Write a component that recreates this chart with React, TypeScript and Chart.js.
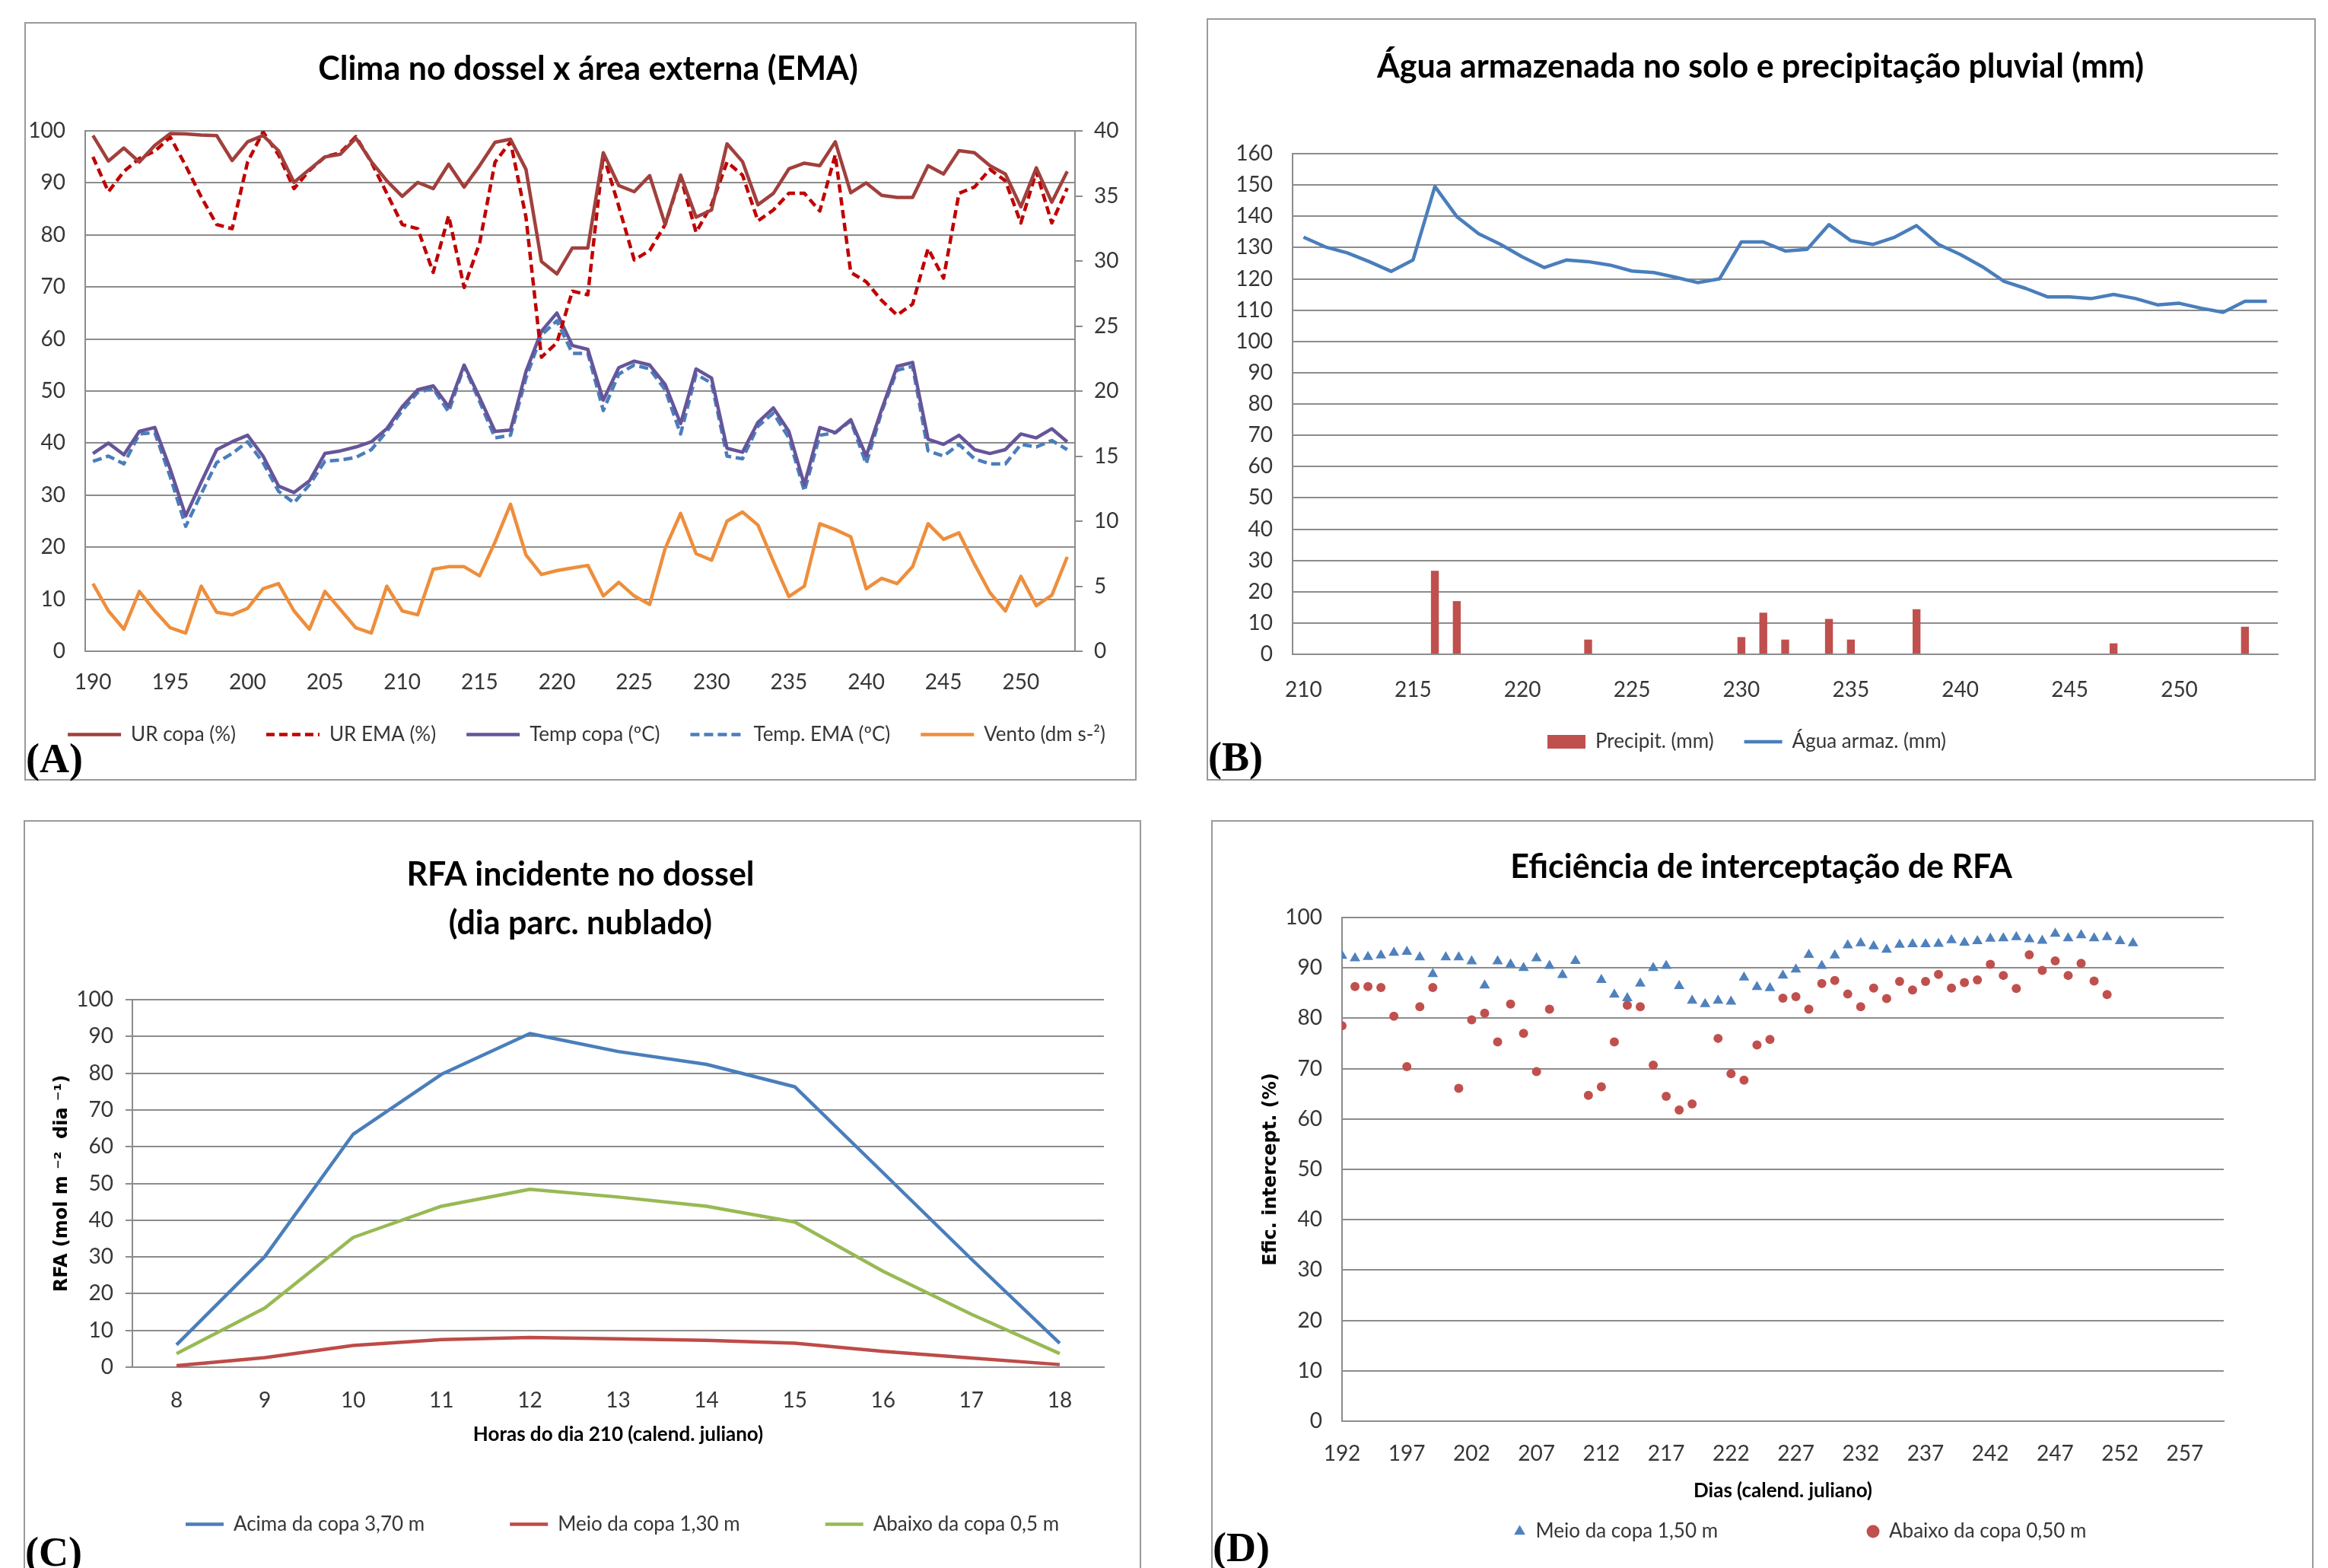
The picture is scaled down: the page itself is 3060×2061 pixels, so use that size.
import React, { useEffect, useRef } from 'react';
import { Chart, registerables } from 'chart.js';

Chart.register(...registerables);

// ---------------- Panel A : Clima no dossel x área externa ----------------
const daysA = [190, 191, 192, 193, 194, 195, 196, 197, 198, 199, 200, 201, 202, 203, 204, 205, 206, 207, 208, 209, 210, 211, 212, 213, 214, 215, 216, 217, 218, 219, 220, 221, 222, 223, 224, 225, 226, 227, 228, 229, 230, 231, 232, 233, 234, 235, 236, 237, 238, 239, 240, 241, 242, 243, 244, 245, 246, 247, 248, 249, 250, 251, 252, 253];
const xTicksA = [190, 195, 200, 205, 210, 215, 220, 225, 230, 235, 240, 245, 250];
const yTicksA = [0, 10, 20, 30, 40, 50, 60, 70, 80, 90, 100];
const y1TicksA = [0, 5, 10, 15, 20, 25, 30, 35, 40];
const urCopaA = [99.1, 94.2, 96.7, 94.0, 97.2, 99.5, 99.4, 99.2, 99.1, 94.3, 97.9, 99.1, 96.2, 90.1, 92.6, 95.0, 95.5, 98.6, 94.1, 90.4, 87.4, 90.1, 88.9, 93.6, 89.2, 93.3, 97.8, 98.4, 92.6, 74.9, 72.5, 77.5, 77.5, 95.8, 89.5, 88.3, 91.4, 82.0, 91.5, 83.4, 84.8, 97.5, 94.1, 85.8, 88.0, 92.7, 93.8, 93.3, 97.9, 88.1, 90.0, 87.6, 87.2, 87.2, 93.3, 91.7, 96.2, 95.8, 93.3, 91.7, 85.4, 92.9, 86.3, 92.2];
const urEmaA = [95.0, 88.3, 92.2, 94.7, 96.1, 98.8, 93.3, 87.3, 82.0, 81.2, 94.0, 99.8, 95.4, 88.9, 92.4, 95.0, 95.8, 98.9, 94.0, 88.0, 82.0, 81.2, 72.8, 83.7, 69.9, 78.4, 94.0, 97.9, 83.4, 56.5, 59.3, 69.2, 68.5, 95.4, 85.5, 75.2, 77.0, 82.0, 91.2, 80.5, 85.8, 94.0, 91.5, 82.7, 84.8, 88.0, 88.0, 84.6, 95.4, 72.8, 71.0, 67.4, 64.6, 66.7, 77.4, 71.7, 88.0, 89.2, 92.6, 90.4, 82.3, 92.2, 82.3, 89.0];
const tempCopaA = [15.2, 16.0, 15.1, 16.9, 17.2, 14.0, 10.4, 13.0, 15.5, 16.1, 16.6, 15.0, 12.7, 12.2, 13.1, 15.2, 15.4, 15.7, 16.1, 17.1, 18.8, 20.1, 20.4, 18.8, 22.0, 19.5, 16.9, 17.0, 21.5, 24.6, 26.0, 23.5, 23.2, 19.3, 21.8, 22.3, 22.0, 20.5, 17.5, 21.7, 21.0, 15.6, 15.3, 17.6, 18.7, 16.9, 12.8, 17.2, 16.8, 17.8, 15.0, 18.6, 21.9, 22.2, 16.3, 15.9, 16.6, 15.5, 15.2, 15.5, 16.7, 16.4, 17.1, 16.1];
const tempEmaA = [14.6, 15.0, 14.4, 16.7, 16.8, 13.4, 9.6, 12.1, 14.5, 15.2, 16.1, 14.5, 12.3, 11.4, 12.8, 14.6, 14.7, 14.9, 15.5, 16.9, 18.5, 19.9, 20.2, 18.4, 21.9, 19.2, 16.4, 16.6, 21.0, 24.3, 25.4, 22.9, 22.9, 18.5, 21.3, 22.0, 21.7, 20.1, 16.7, 21.3, 20.6, 15.0, 14.8, 17.3, 18.3, 16.4, 12.3, 16.6, 16.8, 17.7, 14.4, 18.4, 21.6, 21.9, 15.4, 15.0, 15.9, 14.8, 14.4, 14.4, 15.9, 15.7, 16.2, 15.5];
const ventoA = [5.2, 3.1, 1.7, 4.6, 3.1, 1.8, 1.4, 5.0, 3.0, 2.8, 3.3, 4.8, 5.2, 3.1, 1.7, 4.6, 3.2, 1.8, 1.4, 5.0, 3.1, 2.8, 6.3, 6.5, 6.5, 5.8, 8.4, 11.3, 7.4, 5.9, 6.2, 6.4, 6.6, 4.25, 5.3, 4.25, 3.6, 7.9, 10.6, 7.5, 7.0, 10.0, 10.7, 9.7, 6.9, 4.2, 5.0, 9.8, 9.35, 8.8, 4.8, 5.6, 5.2, 6.5, 9.8, 8.6, 9.1, 6.7, 4.5, 3.1, 5.75, 3.5, 4.3, 7.25];

// ---------------- Panel B : Água armazenada e precipitação ----------------
const daysB = [210, 211, 212, 213, 214, 215, 216, 217, 218, 219, 220, 221, 222, 223, 224, 225, 226, 227, 228, 229, 230, 231, 232, 233, 234, 235, 236, 237, 238, 239, 240, 241, 242, 243, 244, 245, 246, 247, 248, 249, 250, 251, 252, 253, 254];
const xTicksB = [210, 215, 220, 225, 230, 235, 240, 245, 250];
const yTicksB = [0, 10, 20, 30, 40, 50, 60, 70, 80, 90, 100, 110, 120, 130, 140, 150, 160];
const precipB = [null, null, null, null, null, null, 26.7, 17.0, null, null, null, null, null, 4.7, null, null, null, null, null, null, 5.5, 13.3, 4.7, null, 11.3, 4.7, null, null, 14.4, null, null, null, null, null, null, null, null, 3.5, null, null, null, null, null, 8.8, null];
const aguaB = [133.3, 130.2, 128.3, 125.5, 122.4, 126.0, 149.5, 139.9, 134.4, 131.0, 127.0, 123.6, 126.0, 125.5, 124.4, 122.5, 122.0, 120.5, 118.8, 120.0, 131.8, 131.8, 128.9, 129.4, 137.3, 132.2, 131.0, 133.3, 137.0, 131.0, 127.8, 123.9, 119.2, 116.9, 114.2, 114.2, 113.7, 115.0, 113.7, 111.7, 112.2, 110.6, 109.3, 112.8, 112.8];

// ---------------- Panel C : RFA incidente no dossel ----------------
const hoursC = [8, 9, 10, 11, 12, 13, 14, 15, 16, 17, 18];
const yTicksC = [0, 10, 20, 30, 40, 50, 60, 70, 80, 90, 100];
const acimaC = [6.1, 30.1, 63.4, 79.7, 90.8, 85.9, 82.4, 76.3, 52.9, 29.4, 6.5];
const meioC = [0.4, 2.6, 5.9, 7.5, 8.1, 7.7, 7.3, 6.5, 4.3, 2.5, 0.7];
const abaixoC = [3.7, 16.1, 35.3, 43.8, 48.4, 46.3, 43.8, 39.5, 26.1, 14.4, 3.7];

// ---------------- Panel D : Eficiência de interceptação ----------------
const xTicksD = [192, 197, 202, 207, 212, 217, 222, 227, 232, 237, 242, 247, 252, 257];
const yTicksD = [0, 10, 20, 30, 40, 50, 60, 70, 80, 90, 100];
const meioDaysD = [192, 193, 194, 195, 196, 197, 198, 199, 200, 201, 202, 203, 204, 205, 206, 207, 208, 209, 210, 212, 213, 214, 215, 216, 217, 218, 219, 220, 221, 222, 223, 224, 225, 226, 227, 228, 229, 230, 231, 232, 233, 234, 235, 236, 237, 238, 239, 240, 241, 242, 243, 244, 245, 246, 247, 248, 249, 250, 251, 252, 253];
const meioValsD = [92.4, 91.9, 92.2, 92.5, 93.0, 93.2, 92.1, 88.8, 92.1, 92.1, 91.3, 86.5, 91.3, 90.7, 90.0, 91.9, 90.4, 88.6, 91.4, 87.6, 84.7, 84.0, 86.9, 90.0, 90.4, 86.4, 83.5, 82.8, 83.5, 83.3, 88.1, 86.2, 86.0, 88.5, 89.7, 92.6, 90.4, 92.5, 94.5, 94.9, 94.3, 93.6, 94.6, 94.7, 94.7, 94.8, 95.5, 95.0, 95.3, 95.8, 95.9, 96.1, 95.7, 95.4, 96.8, 95.9, 96.5, 95.9, 96.1, 95.3, 94.9];
const abaixoDaysD = [192, 193, 194, 195, 196, 197, 198, 199, 201, 202, 203, 204, 205, 206, 207, 208, 211, 212, 213, 214, 215, 216, 217, 218, 219, 221, 222, 223, 224, 225, 226, 227, 228, 229, 230, 231, 232, 233, 234, 235, 236, 237, 238, 239, 240, 241, 242, 243, 244, 245, 246, 247, 248, 249, 250, 251];
const abaixoValsD = [78.5, 86.3, 86.3, 86.1, 80.4, 70.4, 82.3, 86.1, 66.1, 79.7, 81.0, 75.3, 82.8, 77.0, 69.4, 81.8, 64.7, 66.4, 75.3, 82.6, 82.3, 70.7, 64.5, 61.8, 63.0, 76.0, 69.0, 67.7, 74.7, 75.8, 84.0, 84.3, 81.8, 86.9, 87.5, 84.8, 82.3, 86.0, 83.9, 87.3, 85.6, 87.3, 88.7, 86.0, 87.1, 87.6, 90.7, 88.5, 85.9, 92.6, 89.5, 91.4, 88.5, 90.9, 87.4, 84.7];

// ---------------- styling ----------------
const GRID = '#8c8c8c';
const TXT = '#363636';
const FONT = "Lato, 'Open Sans', 'DejaVu Sans', sans-serif";
const LW = 4.5;
const tickFont = { family: FONT, size: 28 };
const LEG_FS = 26;
const legendFont = { family: FONT, size: LEG_FS };
const titleFont = { family: FONT, size: 43, weight: 'bold' as const };
const axisTitleFont = { family: FONT, size: 26, weight: 'bold' as const };
const yTitleFont = { family: "'DejaVu Sans', Verdana, sans-serif", size: 24, weight: 'bold' as const };

const fixedTicks = (vals: number[]) => (scale: any) => {
  scale.ticks = vals.map((v) => ({ value: v }));
};

// places the library-drawn legend row and title at given centres
const blockPos = {
  id: 'blockPos',
  afterLayout(chart: any, _args: any, opts: any) {
    if (!opts) return;
    const lg = chart.legend;
    if (lg && opts.cy != null) {
      lg.top = opts.cy - opts.pad - opts.fs / 2;
      lg.bottom = lg.top + opts.pad + opts.fs + 14;
      const w = lg.right - lg.left;
      lg.left = opts.cx - w / 2;
      lg.right = lg.left + w;
    }
    const tb = chart.titleBlock;
    if (tb && opts.tcx != null) {
      const w = tb.right - tb.left;
      tb.left = opts.tcx - w / 2;
      tb.right = tb.left + w;
    }
  },
};

const lineLegendLabels = (chart: any) =>
  chart.data.datasets.map((ds: any, i: number) => ({
    text: ds.label,
    fillStyle: ds.backgroundColor || ds.borderColor,
    strokeStyle: ds.borderColor || ds.backgroundColor,
    lineWidth: ds.type === 'bar' ? 0 : ds.borderWidth,
    lineDash: ds.borderDash || [],
    lineCap: 'butt',
    pointStyle: ds.type === 'bar' ? 'rect' : 'line',
    fontColor: TXT,
    hidden: false,
    datasetIndex: i,
  }));

const catTickCb = (days: number[], show: number[]) => (_v: any, i: number) =>
  show.includes(days[i]) ? String(days[i]) : null;

function configA(): any {
  return {
    type: 'line',
    data: {
      labels: daysA,
      datasets: [
        { label: 'UR copa (%)', data: urCopaA, borderColor: '#A0403D', backgroundColor: '#A0403D', borderWidth: LW, yAxisID: 'y' },
        { label: 'UR EMA (%)', data: urEmaA, borderColor: '#C00000', backgroundColor: '#C00000', borderWidth: LW, borderDash: [11, 6], yAxisID: 'y' },
        { label: 'Temp copa (ºC)', data: tempCopaA, borderColor: '#66559A', backgroundColor: '#66559A', borderWidth: LW, yAxisID: 'y1' },
        { label: 'Temp. EMA (ºC)', data: tempEmaA, borderColor: '#4A7EBB', backgroundColor: '#4A7EBB', borderWidth: LW, borderDash: [12, 6], yAxisID: 'y1' },
        { label: 'Vento (dm s-²)', data: ventoA, borderColor: '#EE8E3C', backgroundColor: '#EE8E3C', borderWidth: LW, yAxisID: 'y1' },
      ],
    },
    options: {
      responsive: false,
      animation: false,
      devicePixelRatio: 1,
      elements: { point: { radius: 0 }, line: { tension: 0, borderJoinStyle: 'round' } },
      layout: { padding: { left: 0, right: 0, top: 0, bottom: 60 } },
      scales: {
        x: {
          type: 'category', offset: true,
          grid: { display: false },
          border: { display: true, color: GRID, width: 2 },
          ticks: { autoSkip: false, maxRotation: 0, minRotation: 0, padding: 16, font: tickFont, color: TXT, callback: catTickCb(daysA, xTicksA) },
          afterFit: (s: any) => { s.height = 70; },
        },
        y: {
          position: 'left', min: 0, max: 100, afterBuildTicks: fixedTicks(yTicksA),
          grid: { color: GRID, lineWidth: 2, drawTicks: false },
          border: { color: GRID, width: 2 },
          ticks: { padding: 26, font: tickFont, color: TXT },
          afterFit: (s: any) => { s.width = 80; },
        },
        y1: {
          position: 'right', min: 0, max: 40, afterBuildTicks: fixedTicks(y1TicksA),
          grid: { drawOnChartArea: false, color: GRID, lineWidth: 2, drawTicks: true, tickLength: 10 },
          border: { color: GRID, width: 2 },
          ticks: { padding: 15, font: tickFont, color: TXT },
          afterFit: (s: any) => { s.width = 81; },
        },
      },
      plugins: {
        title: { display: true, text: 'Clima no dossel x área externa (EMA)', font: titleFont, color: '#000', padding: { top: 36.2, bottom: 55.2 } },
        legend: {
          display: true, position: 'bottom', maxHeight: 40,
          labels: { usePointStyle: true, pointStyleWidth: 70, font: legendFont, color: TXT, padding: 40, generateLabels: lineLegendLabels },
        },
        blockPos: { cx: 739, cy: 936.5, fs: LEG_FS, pad: 40, tcx: 741 },
        tooltip: { enabled: false },
      },
    },
    plugins: [blockPos],
  };
}

function configB(): any {
  return {
    type: 'bar',
    data: {
      labels: daysB,
      datasets: [
        { type: 'bar', label: 'Precipit. (mm)', data: precipB, backgroundColor: '#C0504D', borderWidth: 0, barPercentage: 0.36, categoryPercentage: 1 },
        { type: 'line', label: 'Água armaz. (mm)', data: aguaB, borderColor: '#4A7EBB', backgroundColor: '#4A7EBB', borderWidth: LW, pointRadius: 0, tension: 0, borderJoinStyle: 'round' },
      ],
    },
    options: {
      responsive: false,
      animation: false,
      devicePixelRatio: 1,
      layout: { padding: { left: 0, right: 50, top: 0, bottom: 51 } },
      scales: {
        x: {
          type: 'category', offset: true,
          grid: { display: false },
          border: { display: true, color: GRID, width: 2 },
          ticks: { autoSkip: false, maxRotation: 0, minRotation: 0, padding: 22, font: tickFont, color: TXT, callback: catTickCb(daysB, xTicksB) },
          afterFit: (s: any) => { s.height = 75; },
        },
        y: {
          position: 'left', min: 0, max: 160, afterBuildTicks: fixedTicks(yTicksB),
          grid: { color: GRID, lineWidth: 2, drawTicks: false },
          border: { color: GRID, width: 2 },
          ticks: { padding: 26, font: tickFont, color: TXT },
          afterFit: (s: any) => { s.width = 113; },
        },
      },
      plugins: {
        title: { display: true, text: 'Água armazenada no solo e precipitação pluvial (mm)', font: titleFont, color: '#000', padding: { top: 38.7, bottom: 87.7 } },
        legend: {
          display: true, position: 'bottom', maxHeight: 40,
          labels: { usePointStyle: true, pointStyleWidth: 50, boxHeight: 18, font: legendFont, color: TXT, padding: 40, generateLabels: lineLegendLabels },
        },
        blockPos: { cx: 710, cy: 951, fs: LEG_FS, pad: 40, tcx: 728 },
        tooltip: { enabled: false },
      },
    },
    plugins: [blockPos],
  };
}

function configC(): any {
  return {
    type: 'line',
    data: {
      labels: hoursC,
      datasets: [
        { label: 'Acima da copa 3,70 m', data: acimaC, borderColor: '#4A7EBB', backgroundColor: '#4A7EBB', borderWidth: LW },
        { label: 'Meio da copa 1,30 m', data: meioC, borderColor: '#BE4B48', backgroundColor: '#BE4B48', borderWidth: LW },
        { label: 'Abaixo da copa 0,5 m', data: abaixoC, borderColor: '#98B954', backgroundColor: '#98B954', borderWidth: LW },
      ],
    },
    options: {
      responsive: false,
      animation: false,
      devicePixelRatio: 1,
      elements: { point: { radius: 0 }, line: { tension: 0, borderJoinStyle: 'round' } },
      layout: { padding: { left: 0, right: 49, top: 0, bottom: 114.8 } },
      scales: {
        x: {
          type: 'category', offset: true,
          grid: { display: false },
          border: { display: true, color: GRID, width: 2 },
          ticks: { autoSkip: false, maxRotation: 0, minRotation: 0, padding: 19.5, font: tickFont, color: TXT },
          title: { display: true, text: 'Horas do dia 210 (calend. juliano)', font: axisTitleFont, color: '#000', padding: { top: 0, bottom: 5 } },
          afterFit: (s: any) => { s.height = 109.2; },
        },
        y: {
          position: 'left', min: 0, max: 100, afterBuildTicks: fixedTicks(yTicksC),
          grid: { color: GRID, lineWidth: 2, drawTicks: true, tickLength: 9 },
          border: { color: GRID, width: 2 },
          ticks: { padding: 16, font: tickFont, color: TXT },
          title: { display: true, text: 'RFA (mol m ⁻²  dia ⁻¹)', font: yTitleFont, color: '#000', padding: { top: 36.6, bottom: 0 } },
          afterFit: (s: any) => { s.width = 143; },
        },
      },
      plugins: {
        title: {
          display: true, text: ['RFA incidente no dossel', '(dia parc. nublado)'],
          font: { family: FONT, size: 43, weight: 'bold', lineHeight: 64 / 43 }, color: '#000', padding: { top: 40, bottom: 68 },
        },
        legend: {
          display: true, position: 'bottom', maxHeight: 40,
          labels: { usePointStyle: true, pointStyleWidth: 50, font: legendFont, color: TXT, padding: 112, generateLabels: lineLegendLabels },
        },
        blockPos: { cx: 787, cy: 925.5, fs: LEG_FS, pad: 112, tcx: 732 },
        tooltip: { enabled: false },
      },
    },
    plugins: [blockPos],
  };
}

function configD(): any {
  return {
    type: 'scatter',
    data: {
      datasets: [
        {
          label: 'Meio da copa 1,50 m',
          data: meioDaysD.map((d, i) => ({ x: d, y: meioValsD[i] })),
          pointStyle: 'triangle', pointRadius: 8, pointBorderWidth: 0,
          backgroundColor: '#4F81BD', borderColor: '#4F81BD', showLine: false,
        },
        {
          label: 'Abaixo da copa 0,50 m',
          data: abaixoDaysD.map((d, i) => ({ x: d, y: abaixoValsD[i] })),
          pointStyle: 'circle', pointRadius: 6, pointBorderWidth: 0,
          backgroundColor: '#C0504D', borderColor: '#C0504D', showLine: false,
        },
      ],
    },
    options: {
      responsive: false,
      animation: false,
      devicePixelRatio: 1,
      layout: { padding: { left: 0, right: 118, top: 0, bottom: 40.8 } },
      scales: {
        x: {
          type: 'linear', min: 192, max: 260, afterBuildTicks: fixedTicks(xTicksD),
          grid: { display: false },
          border: { display: true, color: GRID, width: 2 },
          ticks: { padding: 18.5, font: tickFont, color: TXT, maxRotation: 0, autoSkip: false, callback: (v: any) => String(v) },
          title: { display: true, text: 'Dias (calend. juliano)', font: axisTitleFont, color: '#000', padding: { top: 0, bottom: 5 } },
          afterFit: (s: any) => { s.height = 112.2; },
        },
        y: {
          position: 'left', min: 0, max: 100, afterBuildTicks: fixedTicks(yTicksD),
          grid: { color: GRID, lineWidth: 2, drawTicks: false },
          border: { color: GRID, width: 2 },
          ticks: { padding: 26, font: tickFont, color: TXT },
          title: { display: true, text: 'Efic. intercept. (%)', font: yTitleFont, color: '#000', padding: { top: 64.6, bottom: 0 } },
          afterFit: (s: any) => { s.width = 172; },
        },
      },
      plugins: {
        title: { display: true, text: 'Eficiência de interceptação de RFA', font: titleFont, color: '#000', padding: { top: 36.2, bottom: 40.2 } },
        legend: {
          display: true, position: 'bottom', maxHeight: 40,
          labels: { usePointStyle: true, boxWidth: 16, boxHeight: 12, font: legendFont, color: TXT, padding: 196 },
        },
        blockPos: { cx: 774, cy: 935, fs: LEG_FS, pad: 196, tcx: 723 },
        tooltip: { enabled: false },
      },
    },
    plugins: [blockPos],
  };
}

function ChartBox({ x, y, w, h, make }: { x: number; y: number; w: number; h: number; make: () => any }) {
  const ref = useRef<HTMLCanvasElement>(null);
  useEffect(() => {
    const chart = new Chart(ref.current as HTMLCanvasElement, make());
    return () => chart.destroy();
  }, [make]);
  return (
    <canvas
      ref={ref}
      width={w}
      height={h}
      style={{ position: 'absolute', left: x, top: y, width: w, height: h, display: 'block' }}
    />
  );
}

function Frame({ x, y, w, h, openBottom }: { x: number; y: number; w: number; h: number; openBottom?: boolean }) {
  return (
    <div
      style={{
        position: 'absolute', left: x, top: y, width: w, height: h, boxSizing: 'border-box',
        border: '2px solid #9a9a9a', borderBottom: openBottom ? 'none' : '2px solid #9a9a9a', pointerEvents: 'none',
      }}
    />
  );
}

function PanelLabel({ x, y, text }: { x: number; y: number; text: string }) {
  return (
    <div
      style={{
        position: 'absolute', left: x, top: y, fontFamily: "'Liberation Serif', 'DejaVu Serif', serif",
        fontWeight: 'bold', fontSize: 54, lineHeight: '54px', color: '#000', whiteSpace: 'nowrap',
      }}
    >
      {text}
    </div>
  );
}

export default function App() {
  return (
    <div style={{ position: 'absolute', left: 0, top: 0, width: 3060, height: 2061, overflow: 'hidden', background: '#fff' }}>
      <ChartBox x={32} y={29} w={1462} h={997} make={configA} />
      <Frame x={32} y={29} w={1462} h={997} />
      <PanelLabel x={34} y={970} text="(A)" />

      <ChartBox x={1586} y={24} w={1458} h={1002} make={configB} />
      <Frame x={1586} y={24} w={1458} h={1002} />
      <PanelLabel x={1588} y={968} text="(B)" />

      <ChartBox x={31} y={1078} w={1469} h={983} make={configC} />
      <Frame x={31} y={1078} w={1469} h={983} openBottom />
      <PanelLabel x={33} y={2013} text="(C)" />

      <ChartBox x={1592} y={1078} w={1449} h={983} make={configD} />
      <Frame x={1592} y={1078} w={1449} h={983} openBottom />
      <PanelLabel x={1594} y={2007} text="(D)" />
    </div>
  );
}
